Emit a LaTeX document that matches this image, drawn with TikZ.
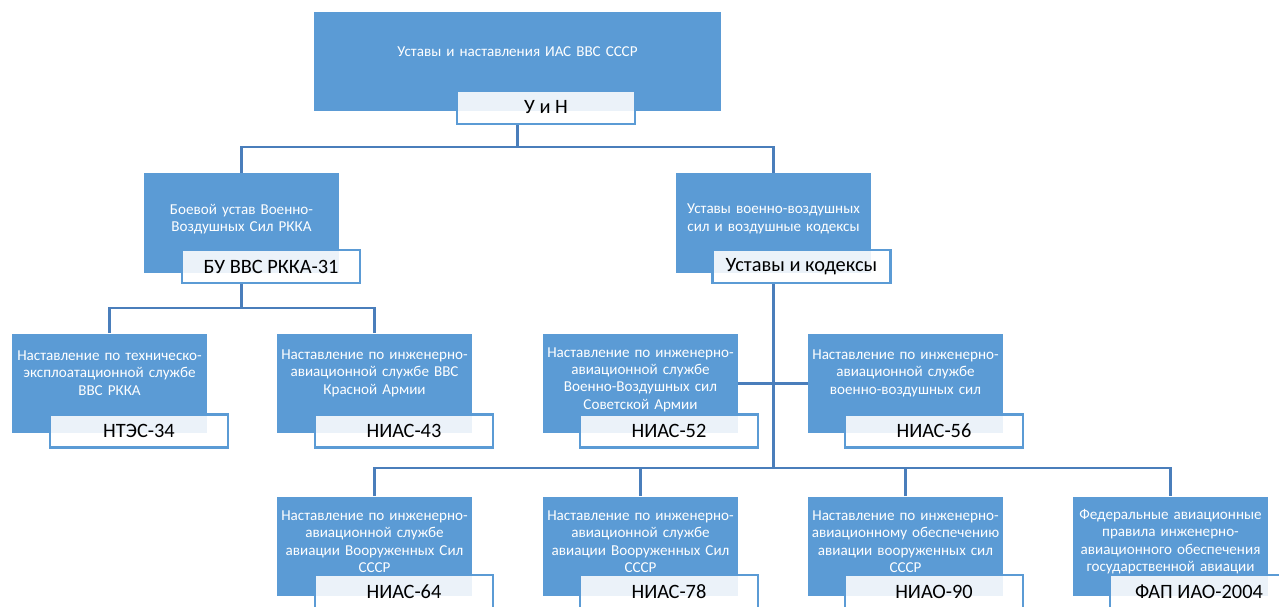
\documentclass[tikz,border=0pt]{standalone}
\usepackage{fontspec}
\setmainfont{Carlito}
\usetikzlibrary{backgrounds}
\definecolor{golub}{HTML}{5B9BD5}
\definecolor{liniya}{HTML}{4A7EBB}
\tikzset{
  blok/.style={rectangle, fill=golub, minimum width=3.9cm, minimum height=2cm, inner sep=0},
  tekst/.style={text=white, text width=3.88cm, align=center, inner sep=0, yshift=0.18cm,
    font=\fontsize{8.6}{9.9}\selectfont},
  metka/.style={rectangle, draw=golub, line width=1.3pt, fill=white, fill opacity=0.88,
    text opacity=1, minimum width=3.56cm, minimum height=0.66cm, inner sep=0,
    font=\fontsize{11.6}{13}\selectfont},
  svyaz/.style={draw=liniya, line width=1.6pt}
}
\begin{document}
\begin{tikzpicture}[x=0.02cm, y=-0.02cm]
\useasboundingbox (0,0) rectangle (1279,606);
% verkhnij uroven
\node[blok, minimum width=8.14cm, minimum height=1.98cm,
  label={[tekst, text width=8cm, yshift=0.02cm]center:{Уставы и наставления ИАС ВВС СССР}}] (glav) at (517.5,61.5) {};
\node[metka] (un) at (546,107.5) {У и Н};
% vtoroj uroven
\node[blok, label={[tekst, yshift=-0.1cm]center:{Боевой устав Военно-\\Воздушных Сил РККА}}] (bu) at (241.5,223) {};
\node[metka] (bu31) at (271,266.5) {БУ ВВС РККА-31};
\node[blok, label={[tekst, yshift=-0.1cm]center:{Уставы военно-воздушных\\сил и воздушные кодексы}}] (ust) at (773.5,223) {};
\node[metka] (kod) at (801.5,266.5) {Уставы и кодексы};
% tretij uroven
\node[blok, label={[tekst, yshift=0.03cm]center:{Наставление по техническо-\\эксплоатационной службе\\ВВС РККА}}] (b34) at (109.5,383.5) {};
\node[metka] (n34) at (139,431) {НТЭС-34};
\node[blok, label={[tekst, yshift=0.03cm]center:{Наставление по инженерно-\\авиационной службе ВВС\\Красной Армии}}] (b43) at (374.5,383.5) {};
\node[metka] (n43) at (404,431) {НИАС-43};
\node[blok, label={[tekst, yshift=-0.1cm]center:{Наставление по инженерно-\\авиационной службе\\Военно-Воздушных сил\\Советской Армии}}] (b52) at (640.5,383.5) {};
\node[metka] (n52) at (669,431) {НИАС-52};
\node[blok, label={[tekst, yshift=0.03cm]center:{Наставление по инженерно-\\авиационной службе\\военно-воздушных сил}}] (b56) at (905.5,383.5) {};
\node[metka] (n56) at (934,431) {НИАС-56};
% chetvertyj uroven
\node[blok, label={[tekst, yshift=-0.08cm]center:{Наставление по инженерно-\\авиационной службе\\авиации Вооруженных Сил\\СССР}}] (b64) at (374.5,546.5) {};
\node[metka] (n64) at (404,591.5) {НИАС-64};
\node[blok, label={[tekst, yshift=-0.08cm]center:{Наставление по инженерно-\\авиационной службе\\авиации Вооруженных Сил\\СССР}}] (b78) at (640.5,546.5) {};
\node[metka] (n78) at (669,591.5) {НИАС-78};
\node[blok, label={[tekst, yshift=-0.08cm]center:{Наставление по инженерно-\\авиационному обеспечению\\авиации вооруженных сил\\СССР}}] (b90) at (905.5,546.5) {};
\node[metka] (n90) at (934,591.5) {НИАО-90};
\node[blok, label={[tekst, yshift=-0.08cm]center:{Федеральные авиационные\\правила инженерно-\\авиационного обеспечения\\государственной авиации}}] (b2004) at (1170.5,546.5) {};
\node[metka] (n2004) at (1199,591.5) {ФАП ИАО-2004};
% svyazi
\coordinate (shina1) at (517.5,147);
\coordinate (shina2) at (241.5,308);
\coordinate (shina3) at (773.5,468);
\begin{pgfonlayer}{background}
\draw[svyaz] (glav.center |- un.south) -- (shina1);
\draw[svyaz] (bu.north) |- (shina1) -| (ust.north);
\draw[svyaz] (bu.center |- bu31.south) -- (shina2);
\draw[svyaz] (b34.north) |- (shina2) -| (b43.north);
\draw[svyaz] (ust.center |- kod.south) -- (shina3);
\draw[svyaz] (b52.east) -- (b56.west);
\draw[svyaz] (b64.north) |- (shina3) -| (b2004.north);
\draw[svyaz] (b78.north) -- (b78.north |- shina3);
\draw[svyaz] (b90.north) -- (b90.north |- shina3);
\end{pgfonlayer}
\end{tikzpicture}
\end{document}
